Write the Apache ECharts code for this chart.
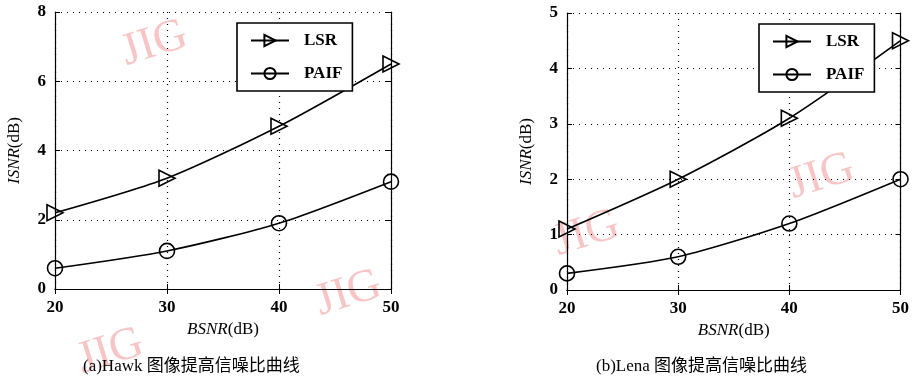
<!DOCTYPE html>
<html><head><meta charset="utf-8">
<script src="https://cdn.jsdelivr.net/npm/echarts@6/dist/echarts.min.js"></script>
<style>html,body{margin:0;padding:0;background:#fff}#c{width:912px;height:385px}</style>
</head><body><div id="c"></div>
<script>
const bsnr = [20, 30, 40, 50];
const hawkLSR = [2.2, 3.2, 4.7, 6.5];
const hawkPAIF = [0.6, 1.1, 1.9, 3.1];
const lenaLSR = [1.1, 2.0, 3.1, 4.5];
const lenaPAIF = [0.3, 0.6, 1.2, 2.0];
const seriesNames = ['LSR', 'PAIF'];
const captions = ['(a)Hawk 图像提高信噪比曲线', '(b)Lena 图像提高信噪比曲线'];
const yTitle = '{i|ISNR}(dB)';
const xTitle = '{i|BSNR}(dB)';

const serif = 'Liberation Serif';
const tri = 'path://M0,0 L13,7 L0,14 Z';
const pair = (xs, ys) => xs.map((x, i) => [x, ys[i]]);

const nameRich = { i: { fontStyle: 'italic', fontFamily: serif, fontSize: 17, color: '#000' } };
const nameStyle = { fontFamily: serif, fontSize: 17, color: '#000', rich: nameRich };
const labelStyle = { fontFamily: serif, fontWeight: 'bold', fontSize: 17, color: '#000' };
const dotted = { show: true, lineStyle: { color: '#000', type: [1, 5], width: 1.2 } };
const lineAx = { show: true, lineStyle: { color: '#000', width: 1.2 } };
const tickIn = { show: true, inside: true, length: 5, lineStyle: { color: '#000' } };

function xAxes(grid) {
  return [
    { type: 'value', gridIndex: grid, min: 20, max: 50, interval: 10, position: 'bottom',
      axisLine: lineAx, axisTick: tickIn, splitLine: dotted,
      axisLabel: Object.assign({ margin: 10 }, labelStyle),
      name: xTitle, nameLocation: 'middle', nameGap: 32, nameTextStyle: nameStyle },
    { type: 'value', gridIndex: grid, min: 20, max: 50, interval: 10, position: 'top',
      axisLine: lineAx, axisTick: tickIn, splitLine: { show: false }, axisLabel: { show: false } }
  ];
}
function yAxes(grid, max) {
  return [
    { type: 'value', gridIndex: grid, min: 0, max: max, interval: max === 8 ? 2 : 1, position: 'left',
      axisLine: lineAx, axisTick: tickIn, splitLine: dotted,
      axisLabel: Object.assign({ margin: 9 }, labelStyle),
      name: yTitle, nameLocation: 'middle', nameRotate: 90, nameGap: 32, nameTextStyle: nameStyle },
    { type: 'value', gridIndex: grid, min: 0, max: max, interval: max === 8 ? 2 : 1, position: 'right',
      axisLine: lineAx, axisTick: tickIn, splitLine: { show: false }, axisLabel: { show: false } }
  ];
}
function mk(name, data, xi, yi) {
  const isTri = name === seriesNames[0];
  return {
    name: name, type: 'line', xAxisIndex: xi, yAxisIndex: yi, data: data,
    smooth: 0.25, symbol: isTri ? tri : 'circle', symbolSize: isTri ? 16 : 15,
    showAllSymbol: true,
    lineStyle: { color: '#000', width: 1.6 },
    itemStyle: { color: 'rgba(0,0,0,0)', borderColor: '#000', borderWidth: 1.6 },
    emphasis: { disabled: true }, z: 3
  };
}
function legend(left, top) {
  return {
    left: left, top: top, orient: 'vertical', data: seriesNames,
    borderColor: '#000', borderWidth: 1.6, backgroundColor: '#fff',
    padding: [9, 10, 9, 13], itemWidth: 38, itemHeight: 14, itemGap: 16,
    textStyle: { fontFamily: serif, fontWeight: 'bold', fontSize: 17, color: '#000', width: 68, padding: [0, 0, 0, 10] },
    selectedMode: false, inactiveColor: '#000'
  };
}
const wm = (x, y, s) => ({ type: 'text', left: x, top: y, rotation: 0.3, z: 0,
  style: { text: 'JIG', fontFamily: serif, fontSize: s || 46, fill: 'rgba(240,150,150,0.55)' } });

const chart = echarts.init(document.getElementById('c'), null, { renderer: 'canvas' });
chart.setOption({
  backgroundColor: '#fff',
  animation: false,
  grid: [
    { left: 55, right: 521, top: 12, bottom: 96 },
    { left: 567, right: 10, top: 13, bottom: 95 }
  ],
  xAxis: xAxes(0).concat(xAxes(1)),
  yAxis: yAxes(0, 8).concat(yAxes(1, 5)),
  legend: [legend(237, 23), legend(759, 24)],
  series: [
    mk(seriesNames[0], pair(bsnr, hawkLSR), 0, 0),
    mk(seriesNames[1], pair(bsnr, hawkPAIF), 0, 0),
    mk(seriesNames[0], pair(bsnr, lenaLSR), 2, 2),
    mk(seriesNames[1], pair(bsnr, lenaPAIF), 2, 2)
  ],
  graphic: [
    wm(116, 12), wm(310, 262), wm(72, 320), wm(548, 202), wm(783, 145),
    { type: 'text', left: 83, top: 358, style: { text: captions[0], fontFamily: serif + ', Noto Sans CJK SC', fontSize: 17, fill: '#000' } },
    { type: 'text', left: 596, top: 358, style: { text: captions[1], fontFamily: serif + ', Noto Sans CJK SC', fontSize: 17, fill: '#000' } }
  ]
});
</script></body></html>
